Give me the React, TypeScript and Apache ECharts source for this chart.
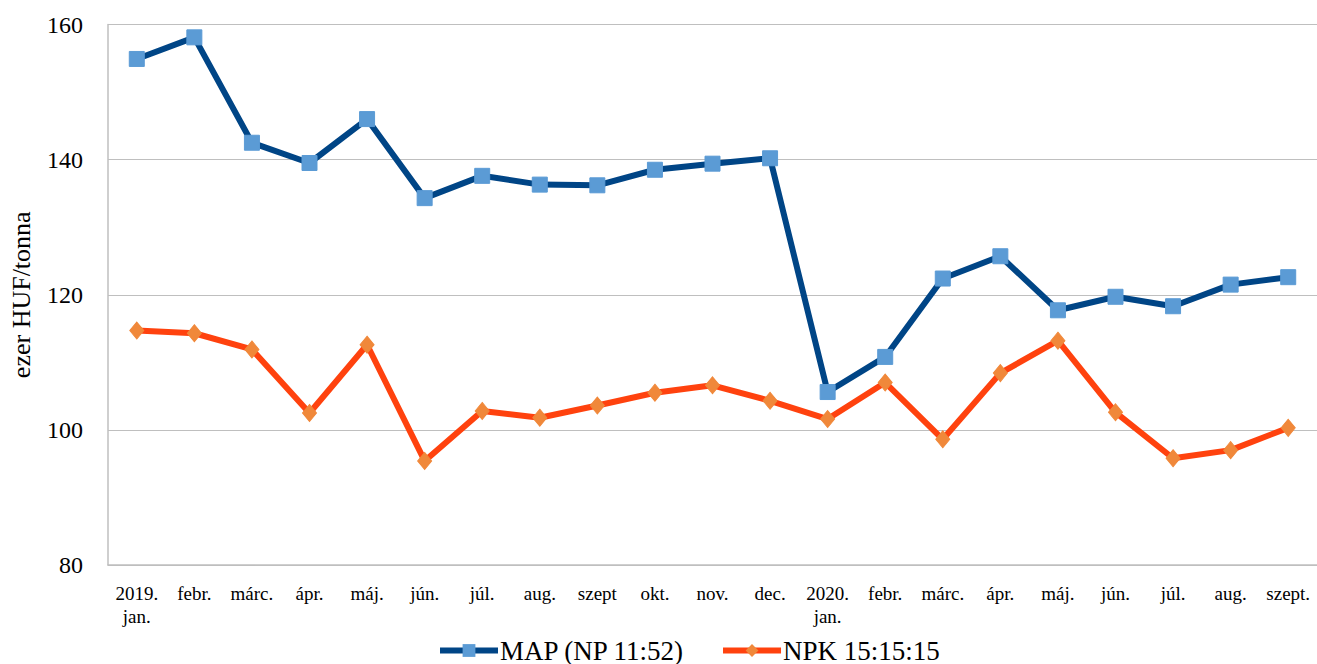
import React, { useEffect, useRef } from "react";
import * as echarts from "echarts";

const categories = [
  "2019.\njan.", "febr.", "márc.", "ápr.", "máj.", "jún.", "júl.", "aug.", "szept", "okt.", "nov.", "dec.",
  "2020.\njan.", "febr.", "márc.", "ápr.", "máj.", "jún.", "júl.", "aug.", "szept.",
];
const mapValues = [154.9, 158.1, 142.5, 139.5, 146.0, 134.3, 137.6, 136.3, 136.2, 138.5, 139.4, 140.2,
  105.6, 110.8, 122.4, 125.7, 117.7, 119.7, 118.3, 121.5, 122.6];
const npkValues = [114.7, 114.3, 111.9, 102.5, 112.6, 95.4, 102.8, 101.8, 103.6, 105.5, 106.6, 104.3,
  101.6, 107.0, 98.6, 108.4, 113.2, 102.6, 95.8, 97.0, 100.3];
const seriesNames = ["MAP (NP 11:52)", "NPK 15:15:15"];
const yAxisName = "ezer HUF/tonna";

const FONT = "'Liberation Serif', 'Times New Roman', serif";

export default function App() {
  const ref = useRef<HTMLDivElement>(null);
  useEffect(() => {
    const chart = echarts.init(ref.current!, null, { renderer: "svg" });
    chart.setOption({
      animation: false,
      textStyle: { fontFamily: FONT },
      grid: { left: 107, right: 0, top: 24.5, bottom: 99, containLabel: false },
      legend: {
        top: 637,
        left: 437,
        padding: 0,
        itemWidth: 58,
        itemHeight: 16,
        itemGap: 35,
        lineStyle: { width: 6 },
        textStyle: { fontFamily: FONT, fontSize: 27, color: "#000", padding: [0, 0, 0, -3] },
        data: seriesNames,
      },
      xAxis: {
        type: "category",
        data: categories,
        boundaryGap: true,
        axisLine: { show: true, lineStyle: { color: "#BFBFBF", width: 1.5 } },
        axisTick: { show: false },
        axisLabel: {
          interval: 0,
          margin: 17,
          fontSize: 19,
          lineHeight: 23,
          color: "#000",
          fontFamily: FONT,
        },
      },
      yAxis: {
        type: "value",
        min: 80,
        max: 160,
        interval: 20,
        name: yAxisName,
        nameLocation: "middle",
        nameGap: 74,
        nameTextStyle: { fontFamily: FONT, fontSize: 26, color: "#000" },
        axisLine: { show: true, lineStyle: { color: "#BFBFBF", width: 1.5 } },
        axisTick: { show: false },
        axisLabel: { fontSize: 24, color: "#000", margin: 25, fontFamily: FONT },
        splitLine: { lineStyle: { color: "#BFBFBF", width: 1.2 } },
      },
      series: [
        {
          name: seriesNames[0],
          type: "line",
          data: mapValues,
          symbol: "rect",
          symbolSize: 15,
          lineStyle: { color: "#004586", width: 6 },
          itemStyle: { color: "#5B9BD5", borderColor: "#5B9BD5" },
          color: "#004586",
          z: 3,
        },
        {
          name: seriesNames[1],
          type: "line",
          data: npkValues,
          symbol: "diamond",
          symbolSize: [14, 17],
          lineStyle: { color: "#FF420E", width: 6 },
          itemStyle: { color: "#F0883A", borderColor: "#F0883A" },
          color: "#FF420E",
          z: 2,
        },
      ],
    });
    return () => chart.dispose();
  }, []);
  return (
    <div
      ref={ref}
      style={{ position: "fixed", left: 0, top: 0, width: 1317, height: 664, background: "#fff" }}
    />
  );
}
